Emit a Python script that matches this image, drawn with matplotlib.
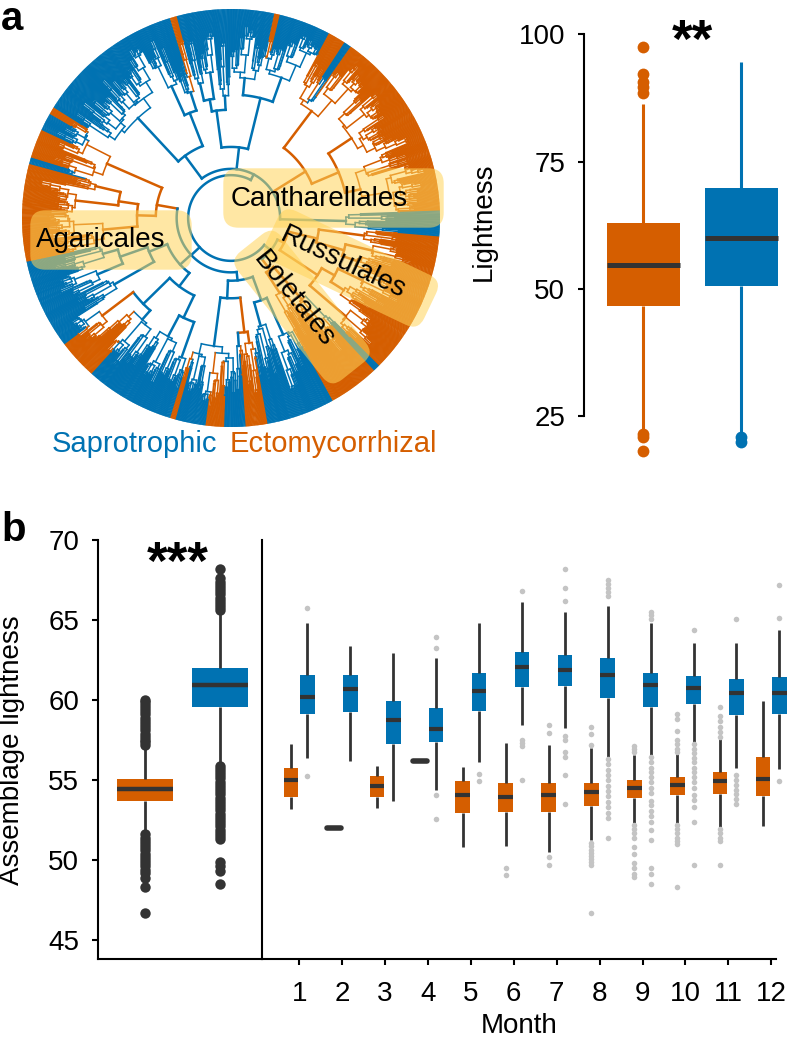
import numpy as np
import matplotlib
matplotlib.use("Agg")
import matplotlib.pyplot as plt
from matplotlib.collections import LineCollection
from matplotlib.patches import FancyBboxPatch
import matplotlib.transforms as mtransforms

plt.rcParams['font.family'] = ['Liberation Sans', 'DejaVu Sans']

# ------------------------------------------------------------------ data
BLUE = '#0072B2'      # Saprotrophic
ORANGE = '#D55E00'    # Ectomycorrhizal
DARK = '#333333'
LIGHT = '#C4C4C4'
GUILD_COLOR = {'S': BLUE, 'E': ORANGE}

# Panel a tree: guild sectors of the leaves (degrees clockwise from top, unwrapped)
SECTOR_EDGES = [95, 135, 137, 151, 170, 176, 182, 187, 195.5, 197, 222, 233, 258,
                285, 287, 295, 300, 302, 343, 345, 372, 373.5, 388, 393, 395, 448, 455]
SECTOR_GUILD = ['E', 'S', 'E', 'S', 'E', 'S', 'E', 'S', 'E', 'S', 'E', 'S', 'E',
                'S', 'E', 'S', 'E', 'S', 'E', 'S', 'E', 'S', 'E', 'S', 'E', 'S']
# major clades (angular ranges) and the radius of their crown node
CLADE_EDGES = [95, 135, 151, 197, 258, 302, 345, 388, 448, 455]
CLADE_NODE_R = [0.28, 0.31, 0.30, 0.33, 0.36, 0.37, 0.34, 0.42, 0.55]
GROUP_MEMBERS = [[0, 1], [2, 3, 4], [5, 6, 7, 8]]
GROUP_NODE_R = [0.245, 0.26, 0.235]
ROOT_R = 0.205

# Panel a boxplot: Lightness by guild
A_GUILDS = ['Ectomycorrhizal', 'Saprotrophic']
A_WHISLO = [22.1, 21.5]
A_Q1 = [46.65, 50.52]
A_MED = [54.72, 60.04]
A_Q3 = [62.99, 69.75]
A_WHISHI = [86.22, 94.62]
A_FLIERS = [[97.57, 92.19, 90.68, 89.57, 88.52, 21.46, 20.8, 18.2],
            [20.8, 19.8]]

# Panel b overall: assemblage lightness
B_WHISLO = [51.75, 56.1]
B_Q1 = [53.68, 59.57]
B_MED = [54.46, 60.92]
B_Q3 = [55.09, 61.97]
B_WHISHI = [57.0, 65.4]
B_FLIERS_ECM = [57.2, 57.4, 57.5, 57.7, 57.9, 58.1, 58.3, 58.5, 58.7, 58.9, 59.1,
                59.3, 59.5, 59.7, 59.9, 60.0,
                51.6, 51.4, 51.2, 51.0, 50.8, 50.6, 50.4, 50.2, 50.0, 49.8, 49.6,
                49.4, 49.2, 48.9, 48.3, 46.7]
B_FLIERS_SAP = [65.6, 65.8, 66.0, 66.2, 66.4, 66.6, 66.8, 67.0, 67.2, 67.4, 67.6, 68.2,
                55.9, 55.7, 55.5, 55.3, 55.1, 54.9, 54.7, 54.5, 54.3, 54.1, 53.9,
                53.7, 53.5, 53.3, 53.1, 52.9, 52.7, 52.5, 52.3, 52.1, 51.9, 51.7,
                51.5, 51.3, 49.9, 49.6, 49.3, 48.5]

# Panel b by month
MONTHS = [1, 2, 3, 4, 5, 6, 7, 8, 9, 10, 11, 12]
ECM_WHISLO = [53.18, 52.02, 53.25, 56.21, 50.83, 50.90, 50.49, 51.28, 52.29, 52.33, 52.06, 52.15]
ECM_Q1 = [53.92, 52.02, 53.92, 56.21, 52.94, 52.98, 53.03, 53.36, 53.90, 54.04, 54.10, 53.99]
ECM_MED = [55.02, 52.02, 54.60, 56.21, 54.04, 53.95, 54.08, 54.26, 54.53, 54.69, 54.91, 55.04]
ECM_Q3 = [55.76, 52.02, 55.22, 56.21, 54.91, 54.84, 54.82, 54.84, 55.02, 55.16, 55.47, 56.43]
ECM_WHISHI = [57.22, 52.02, 55.87, 56.21, 55.83, 57.29, 57.17, 57.00, 56.55, 56.66, 57.56, 59.91]
ECM_FLIERS = [
    [], [], [], [], [],
    [49.53, 49.08],
    [58.43, 57.94, 50.16, 49.71],
    [58.30, 57.89, 57.20, 51.05, 50.85, 50.65, 50.45, 50.25, 50.05, 49.85, 49.71, 46.68],
    [57.10, 56.95, 56.77, 52.18, 51.95, 51.66, 51.39, 50.83, 50.38, 49.82, 49.48, 49.15, 48.92],
    [59.13, 58.83, 58.05, 57.49, 57.22, 56.95, 56.77, 52.18, 51.95, 51.66, 51.39, 51.17,
     50.99, 48.32],
    [59.57, 59.01, 58.68, 58.34, 58.00, 57.71, 51.95, 51.66, 51.39, 51.17, 49.66],
    [],
]
SAP_WHISLO = [56.39, 56.21, 53.68, 54.35, 56.14, 58.43, 58.23, 56.43, 56.55, 57.33, 55.72, 55.70]
SAP_Q1 = [59.10, 59.28, 57.22, 57.38, 59.33, 60.81, 60.85, 60.11, 59.57, 59.78, 59.08, 59.10]
SAP_MED = [60.20, 60.70, 58.72, 58.16, 60.58, 62.04, 61.86, 61.59, 60.92, 60.74, 60.43, 60.43]
SAP_Q3 = [61.59, 61.55, 59.93, 59.53, 61.70, 63.00, 62.80, 62.65, 61.70, 61.48, 61.32, 61.46]
SAP_WHISHI = [64.84, 63.39, 62.94, 62.62, 64.80, 66.12, 65.47, 65.87, 64.84, 63.57, 63.57, 64.35]
SAP_FLIERS = [
    [65.74, 55.25],
    [],
    [],
    [63.92, 63.25, 54.04, 52.56],
    [55.36, 54.91],
    [66.79, 57.49, 57.29, 57.10, 55.02],
    [68.16, 66.97, 66.19, 57.76, 57.51, 56.77, 56.41, 55.34, 53.52],
    [67.49, 67.24, 66.97, 66.75, 66.52, 56.32, 55.99, 55.65, 55.31, 54.98, 54.64, 54.30,
     53.97, 53.63, 53.30, 52.96, 52.62, 51.39],
    [65.52, 65.30, 65.07, 56.43, 56.10, 55.76, 55.47, 55.20, 54.87, 54.53, 54.19, 53.68,
     53.41, 53.07, 52.74, 52.40, 51.88, 51.28, 49.48, 49.15, 48.48],
    [64.39, 57.22, 56.95, 56.66, 56.37, 56.10, 55.76, 55.47, 55.20, 54.87, 54.53, 54.08,
     53.74, 53.30, 52.35, 49.66],
    [65.07, 55.31, 55.00, 54.70, 54.40, 54.10, 53.80, 53.52],
    [67.20, 65.13, 54.93],
]

# ------------------------------------------------------------------ figure
W, H = 789, 1042
fig = plt.figure(figsize=(W / 100, H / 100), dpi=100)


def fx(px):
    return px / W


def fy(py):
    return 1 - py / H


def rect(left, top, right, bottom):
    return [fx(left), fy(bottom), (right - left) / W, (bottom - top) / H]


FS = 20

# ---------------------------------------------------------------- tree
R_PX = 209.0
CX, CY = 231.0, 218.0
HALF = 221.0
ax_t = fig.add_axes(rect(CX - HALF, CY - HALF, CX + HALF, CY + HALF))
ax_t.set_xlim(-HALF / R_PX, HALF / R_PX)
ax_t.set_ylim(-HALF / R_PX, HALF / R_PX)
ax_t.axis('off')

edges = np.array(SECTOR_EDGES, dtype=float)


def guild_at(t):
    i = int(np.searchsorted(edges, t, side='right')) - 1
    i = min(max(i, 0), len(SECTOR_GUILD) - 1)
    return SECTOR_GUILD[i]


def majority(a0, a1):
    e = 0.0
    for i, g in enumerate(SECTOR_GUILD):
        lo = max(a0, edges[i])
        hi = min(a1, edges[i + 1])
        if hi > lo and g == 'E':
            e += hi - lo
    return 'E' if e > 0.5 * (a1 - a0) else 'S'


def pol(t, r):
    a = np.deg2rad(t)
    return (r * np.sin(a), r * np.cos(a))


def arc(t1, t2, r):
    n = max(2, int(abs(t2 - t1) / 0.7) + 2)
    ts = np.linspace(t1, t2, n)
    return [pol(t, r) for t in ts]


branch_segs, branch_cols = [], []
fine_segs, fine_cols = [], []
leaf_segs, leaf_cols = [], []

# layout rules of the schematic tree (structure only)
SPLIT = [0.42, 0.30, 0.62, 0.50, 0.26, 0.70, 0.38, 0.56, 0.34, 0.66]
GROW = [0.20, 0.38, 0.14, 0.30, 0.24, 0.45, 0.17, 0.33, 0.27, 0.12]
GROW2 = [0.06, 0.20, 0.03, 0.13, 0.28, 0.05, 0.10, 0.36, 0.02, 0.16, 0.08]
SPLIT2 = [0.45, 0.3, 0.6, 0.5, 0.35, 0.68, 0.4, 0.55]
COARSE_WIDTH = 8.0
R_COARSE = 0.60
FAN_WIDTH = 1.0
LEAF_STEP = 0.21
R_FAN = 0.955


def fine(a0, a1, r, k):
    w = a1 - a0
    if w <= FAN_WIDTH or r >= R_FAN:
        n = max(1, int(round(w / LEAF_STEP)))
        ts = a0 + (np.arange(n) + 0.5) * w / n
        if n > 1:
            fine_segs.append(arc(ts[0], ts[-1], r))
            fine_cols.append(GUILD_COLOR[majority(a0, a1)])
        for t in ts:
            leaf_segs.append([pol(t, r), pol(t, 1.0)])
            leaf_cols.append(GUILD_COLOR[guild_at(t)])
        return
    f = SPLIT2[k % len(SPLIT2)]
    am = a0 + f * w
    r1 = r + (1 - r) * GROW2[k % len(GROW2)]
    r2 = r + (1 - r) * GROW2[(k + 4) % len(GROW2)]
    m1, m2 = 0.5 * (a0 + am), 0.5 * (am + a1)
    fine_segs.append(arc(m1, m2, r))
    fine_cols.append(GUILD_COLOR[majority(a0, a1)])
    fine_segs.append([pol(m1, r), pol(m1, r1)])
    fine_cols.append(GUILD_COLOR[majority(a0, am)])
    fine_segs.append([pol(m2, r), pol(m2, r2)])
    fine_cols.append(GUILD_COLOR[majority(am, a1)])
    fine(a0, am, r1, k + 1)
    fine(am, a1, r2, k + 3)


def grow(a0, a1, r, k):
    w = a1 - a0
    if w <= COARSE_WIDTH or r >= R_COARSE:
        fine(a0, a1, r, k)
        return
    f = SPLIT[k % len(SPLIT)]
    am = a0 + f * w
    r1 = r + (1 - r) * GROW[k % len(GROW)]
    r2 = r + (1 - r) * GROW[(k + 3) % len(GROW)]
    m1, m2 = 0.5 * (a0 + am), 0.5 * (am + a1)
    branch_segs.append(arc(m1, m2, r))
    branch_cols.append(GUILD_COLOR[majority(a0, a1)])
    branch_segs.append([pol(m1, r), pol(m1, r1)])
    branch_cols.append(GUILD_COLOR[majority(a0, am)])
    branch_segs.append([pol(m2, r), pol(m2, r2)])
    branch_cols.append(GUILD_COLOR[majority(am, a1)])
    grow(a0, am, r1, k + 1)
    grow(am, a1, r2, k + 2)


group_mids = []
for gi, members in enumerate(GROUP_MEMBERS):
    mids = []
    for ci in members:
        a0, a1 = CLADE_EDGES[ci], CLADE_EDGES[ci + 1]
        m = 0.5 * (a0 + a1)
        rn = CLADE_NODE_R[ci]
        mids.append(m)
        col = GUILD_COLOR[majority(a0, a1)]
        branch_segs.append([pol(m, GROUP_NODE_R[gi]), pol(m, rn)])
        branch_cols.append(col)
        grow(a0, a1, rn, 3 * ci)
    branch_segs.append(arc(mids[0], mids[-1], GROUP_NODE_R[gi]))
    branch_cols.append(BLUE)
    gm = 0.5 * (mids[0] + mids[-1])
    group_mids.append(gm)
    branch_segs.append([pol(gm, ROOT_R), pol(gm, GROUP_NODE_R[gi])])
    branch_cols.append(BLUE)
branch_segs.append(arc(group_mids[0], group_mids[-1], ROOT_R))
branch_cols.append(BLUE)

ax_t.add_collection(LineCollection(leaf_segs, colors=leaf_cols, linewidths=0.95,
                                   capstyle='butt', zorder=1))
ax_t.add_collection(LineCollection(fine_segs, colors=fine_cols, linewidths=1.1,
                                   capstyle='projecting', zorder=1.5))
ax_t.add_collection(LineCollection(branch_segs, colors=branch_cols, linewidths=1.8,
                                   capstyle='projecting', joinstyle='miter', zorder=2))

# clade highlight boxes: (text, box centre px, box length, box height, angle, text centre px)
LABEL_BOX = [
    ('Cantharellales', (333.5, 198), 221, 30, 0, (319, 199)),
    ('Agaricales', (111, 240), 162, 30, 0, (100.5, 240)),
    ('Russulales', (351, 268), 176, 28, -25.5, (343, 263)),
    ('Boletales', (302, 307), 164, 28, -51.5, (294, 299)),
]


def to_d(px, py):
    return (px - CX) / R_PX, (CY - py) / R_PX


for name, (bx, by), L, h, ang, (tx, ty) in LABEL_BOX:
    cx, cy = to_d(bx, by)
    Ld, hd = L / R_PX, h / R_PX
    p = FancyBboxPatch((cx - Ld / 2 + hd / 2, cy - hd / 2), Ld - hd, hd,
                       boxstyle=f"round,pad={hd / 2 * 0.98},rounding_size={hd / 2}",
                       facecolor='#FFD45A', edgecolor='none', alpha=0.55, zorder=3)
    p.set_transform(mtransforms.Affine2D().rotate_deg_around(cx, cy, ang) + ax_t.transData)
    ax_t.add_patch(p)
    tcx, tcy = to_d(tx, ty)
    ax_t.text(tcx, tcy, name, fontsize=FS, rotation=ang, rotation_mode='anchor',
              ha='center', va='center', color='black', zorder=4)

fig.text(fx(52), fy(452), 'Saprotrophic', color=BLUE, fontsize=21, ha='left', va='baseline')
fig.text(fx(230), fy(452), 'Ectomycorrhizal', color=ORANGE, fontsize=21, ha='left', va='baseline')

# ---------------------------------------------------------------- panel a boxplot
ax_a = fig.add_axes(rect(584, 20, 789, 460))
ylo_a = 25 - (460 - 416) / 5.09
yhi_a = 100 + (34.3 - 20) / 5.09
ax_a.set_ylim(ylo_a, yhi_a)
ax_a.set_xlim(0, 1)
stats_a = []
for i in range(2):
    stats_a.append(dict(med=A_MED[i], q1=A_Q1[i], q3=A_Q3[i], whislo=A_WHISLO[i],
                        whishi=A_WHISHI[i], fliers=A_FLIERS[i], label=A_GUILDS[i]))
pos_a = [0.288, 0.766]
cols_a = [ORANGE, BLUE]
for i in range(2):
    c = cols_a[i]
    ax_a.bxp([stats_a[i]], positions=[pos_a[i]], widths=0.356, patch_artist=True,
             showcaps=False, manage_ticks=False,
             boxprops=dict(facecolor=c, edgecolor=c, linewidth=0),
             whiskerprops=dict(color=c, linewidth=2.2, solid_capstyle='butt'),
             medianprops=dict(color=DARK, linewidth=3.6, solid_capstyle='butt'),
             flierprops=dict(marker='o', markerfacecolor=c, markeredgecolor='none',
                             markersize=8.5))
for s in ['top', 'right', 'bottom']:
    ax_a.spines[s].set_visible(False)
ax_a.spines['left'].set_bounds(25, 100)
ax_a.spines['left'].set_linewidth(1.5)
ax_a.set_yticks([25, 50, 75, 100])
ax_a.set_xticks([])
ax_a.tick_params(axis='y', labelsize=FS, length=4.5, width=1.5, pad=9)
ax_a.set_ylabel('Lightness', fontsize=FS)
ax_a.yaxis.set_label_coords((497 - 584) / 205, (460 - 222) / 440)
ax_a.patch.set_visible(False)
fig.text(fx(692), fy(57), '**', fontsize=38, fontweight='bold', ha='center', va='baseline')

# ---------------------------------------------------------------- panel b
YLO_B = 45 - (959 - 940) / 16.0
YHI_B = 70 + (540 - 520) / 16.0
ax_b1 = fig.add_axes(rect(98, 520, 262, 959))
ax_b2 = fig.add_axes(rect(262, 520, 776, 959))
for ax in (ax_b1, ax_b2):
    ax.set_ylim(YLO_B, YHI_B)
    ax.patch.set_visible(False)
    for s in ['top', 'right']:
        ax.spines[s].set_visible(False)
    for s in ['left', 'bottom']:
        ax.spines[s].set_linewidth(1.5)
    ax.spines['left'].set_bounds(YLO_B, 70)

ax_b1.set_xlim(0, 1)
stats_b = [dict(med=B_MED[0], q1=B_Q1[0], q3=B_Q3[0], whislo=B_WHISLO[0], whishi=B_WHISHI[0],
                fliers=B_FLIERS_ECM),
           dict(med=B_MED[1], q1=B_Q1[1], q3=B_Q3[1], whislo=B_WHISLO[1], whishi=B_WHISHI[1],
                fliers=B_FLIERS_SAP)]
pos_b = [0.287, 0.744]
for i in range(2):
    c = cols_a[i]
    ax_b1.bxp([stats_b[i]], positions=[pos_b[i]], widths=0.34, patch_artist=True,
              showcaps=False, manage_ticks=False,
              boxprops=dict(facecolor=c, edgecolor=c, linewidth=0),
              whiskerprops=dict(color=DARK, linewidth=2.0, solid_capstyle='butt'),
              medianprops=dict(color=DARK, linewidth=3.2, solid_capstyle='butt'),
              flierprops=dict(marker='o', markerfacecolor=DARK, markeredgecolor='none',
                              markersize=7.5))
ax_b1.set_xticks([])
ax_b1.set_yticks([45, 50, 55, 60, 65, 70])
ax_b1.tick_params(axis='y', labelsize=FS, length=4.5, width=1.5, pad=9)
ax_b1.set_ylabel('Assemblage lightness', fontsize=FS)
ax_b1.yaxis.set_label_coords((25 - 98) / 164, (959 - 750) / 439)
fig.text(fx(178), fy(579), '***', fontsize=38, fontweight='bold', ha='center', va='baseline')

ax_b2.set_xlim(1 + (262 - 299.3) / 42.9, 1 + (776 - 299.3) / 42.9)
OFF = 0.19
for j, m in enumerate(MONTHS):
    for stats, c, off in (
            (dict(med=ECM_MED[j], q1=ECM_Q1[j], q3=ECM_Q3[j], whislo=ECM_WHISLO[j],
                  whishi=ECM_WHISHI[j], fliers=ECM_FLIERS[j]), ORANGE, -OFF),
            (dict(med=SAP_MED[j], q1=SAP_Q1[j], q3=SAP_Q3[j], whislo=SAP_WHISLO[j],
                  whishi=SAP_WHISHI[j], fliers=SAP_FLIERS[j]), BLUE, OFF)):
        single = stats['q1'] == stats['q3']
        art = ax_b2.bxp([stats], positions=[m + off], widths=0.34, patch_artist=True,
                        showcaps=False, manage_ticks=False,
                        boxprops=dict(facecolor=c, edgecolor=c, linewidth=0),
                        whiskerprops=dict(color=DARK, linewidth=2.0, solid_capstyle='butt'),
                        medianprops=dict(color=DARK, linewidth=4.0 if single else 3.0,
                                         solid_capstyle='round' if single else 'butt'),
                        flierprops=dict(marker='o', markerfacecolor=LIGHT,
                                        markeredgecolor='none', markersize=4.0))
        for key in art:
            for a in art[key]:
                a.set_clip_on(False)
ax_b2.set_xticks(MONTHS)
ax_b2.set_yticks([])
ax_b2.tick_params(axis='x', labelsize=FS, length=4.5, width=1.5, pad=11)
ax_b2.set_xlabel('Month', fontsize=FS, labelpad=5)

# panel letters
fig.text(fx(1), fy(0), 'a', fontsize=29, fontweight='bold', ha='left', va='top')
fig.text(fx(1), fy(541), 'b', fontsize=29, fontweight='bold', ha='left', va='baseline')

fig.savefig('out.png', dpi=100)
